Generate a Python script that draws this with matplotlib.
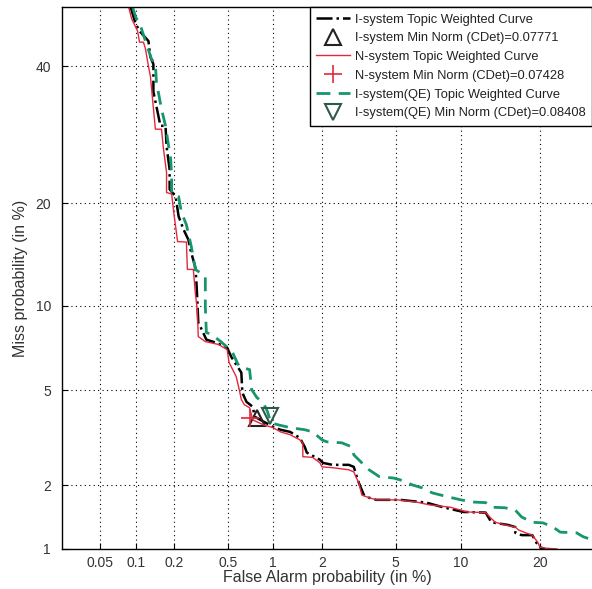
import numpy as np
import matplotlib
matplotlib.use("Agg")
import matplotlib.pyplot as plt
import matplotlib.scale as mscale
import matplotlib.transforms as mtransforms
from matplotlib.ticker import FixedLocator, FixedFormatter, NullLocator
from statistics import NormalDist

# ---------------- data (percent) ----------------
i_fa = [0.0911, 0.1, 0.1095, 0.1268, 0.1315, 0.1389, 0.1389, 0.1521, 0.1578, 0.1729,
        0.176, 0.1859, 0.1859, 0.2068, 0.2178, 0.237, 0.258, 0.267, 0.2905, 0.2955,
        0.3004, 0.3055, 0.3162, 0.350, 0.408, 0.492, 0.525, 0.569, 0.617, 0.627,
        0.668, 0.736, 0.761, 1.0, 1.117, 1.284, 1.474, 1.580, 1.625, 1.945,
        2.025, 2.296, 2.842, 3.026, 3.142, 3.222, 3.432, 3.654, 3.99, 5.27,
        7.03, 8.35, 10.26, 12.64, 13.31, 13.78, 15.42, 16.39, 16.39, 17.27,
        18.83, 19.48, 20.0, 20.8]
i_miss = [50, 47.1, 45.7, 44.2, 41.5, 40.3, 35.8, 32.0, 30.5, 30.5,
          27.5, 24.3, 21.7, 20.8, 18.45, 17.0, 15.9, 14.9, 13.2, 12.1,
          10.5, 8.78, 8.51, 7.67, 7.49, 7.19, 6.67, 6.24, 5.83, 4.89,
          4.51, 4.31, 3.93, 3.58, 3.48, 3.41, 3.22, 2.95, 2.79, 2.60,
          2.52, 2.47, 2.47, 2.42, 2.19, 2.06, 1.81, 1.76, 1.72, 1.72,
          1.67, 1.59, 1.51, 1.50, 1.35, 1.34, 1.31, 1.28, 1.20, 1.17,
          1.17, 1.07, 1.02, 1.0]

n_fa = [0.0877, 0.0928, 0.1037, 0.1076, 0.1157, 0.12, 0.1268, 0.1315, 0.144, 0.1607,
        0.1667, 0.176, 0.176, 0.1928, 0.2, 0.214, 0.2494, 0.2537, 0.2809, 0.2905,
        0.3004, 0.3055, 0.344, 0.429, 0.492, 0.508, 0.569, 0.597, 0.617, 0.647,
        0.702, 0.736, 0.865, 1.0, 1.117, 1.284, 1.474, 1.537, 1.537, 1.765,
        1.945, 2.0, 2.296, 2.842, 3.026, 3.104, 3.222, 3.346, 3.654, 3.99,
        5.107, 6.32, 7.26, 8.99, 10.0, 10.62, 12.64, 13.2, 13.78, 15.03,
        16.39, 16.82, 17.87, 18.83, 19.66, 20.0, 20.8, 22.75]
n_miss = [50, 48.0, 45.9, 44.0, 44.0, 42.9, 40.0, 38.3, 30.0, 30.0,
          27.1, 23.9, 21.3, 21.1, 18.9, 15.7, 15.65, 13.0, 13.0, 11.0,
          9.7, 7.86, 7.55, 7.37, 7.07, 6.35, 5.63, 5.03, 4.60, 4.39,
          4.27, 3.82, 3.65, 3.55, 3.41, 3.32, 3.16, 3.07, 2.68, 2.66,
          2.52, 2.42, 2.40, 2.35, 2.30, 2.19, 2.06, 1.81, 1.76, 1.72,
          1.72, 1.68, 1.63, 1.59, 1.54, 1.51, 1.50, 1.42, 1.35, 1.31,
          1.28, 1.24, 1.20, 1.17, 1.08, 1.02, 1.01, 1.0]

qe_fa = [0.0945, 0.1, 0.1095, 0.12, 0.1339, 0.144, 0.1467, 0.1607, 0.1729, 0.1793,
         0.1894, 0.1928, 0.1928, 0.2178, 0.229, 0.2494, 0.2714, 0.2905, 0.344, 0.344,
         0.350, 0.381, 0.444, 0.533, 0.578, 0.597, 0.702, 0.724, 0.786, 0.865,
         0.922, 0.968, 1.072, 1.284, 1.580, 1.765, 2.0, 2.13, 2.60, 2.95,
         3.026, 3.346, 3.654, 4.14, 4.88, 5.27, 6.06, 6.74, 7.50, 8.71,
         10.0, 11.19, 12.64, 13.31, 15.03, 16.39, 17.27, 18.83, 20.5, 22.1,
         23.3, 26.2, 27.35, 29.1]
qe_miss = [50, 48.3, 46.8, 44.2, 41.2, 40.3, 37.4, 33.1, 30.5, 28.5,
           25.7, 23.4, 21.1, 20.8, 18.9, 17.5, 15.2, 13.0, 12.4, 9.93,
           8.12, 7.99, 7.55, 6.96, 6.35, 6.14, 5.98, 5.03, 4.68, 4.47,
           4.12, 3.72, 3.65, 3.55, 3.48, 3.41, 3.16, 3.10, 3.07, 2.95,
           2.73, 2.52, 2.35, 2.19, 2.16, 2.12, 2.01, 1.95, 1.85, 1.78,
           1.72, 1.68, 1.67, 1.59, 1.58, 1.54, 1.43, 1.35, 1.34, 1.28,
           1.21, 1.20, 1.15, 1.11]

# minimum-cost points (FA %, Miss %)
i_min = (0.786, 3.88)
n_min = (0.702, 3.90)
qe_min = (0.953, 3.97)

labels = ["I-system Topic Weighted Curve",
          "I-system Min Norm (CDet)=0.07771",
          "N-system Topic Weighted Curve",
          "N-system Min Norm (CDet)=0.07428",
          "I-system(QE) Topic Weighted Curve",
          "I-system(QE) Min Norm (CDet)=0.08408"]

x_ticks = [0.05, 0.1, 0.2, 0.5, 1, 2, 5, 10, 20]
x_ticklabels = ["0.05", "0.1", "0.2", "0.5", "1", "2", "5", "10", "20"]
y_ticks = [1, 2, 5, 10, 20, 40]
y_ticklabels = ["1", "2", "5", "10", "20", "40"]

# ---------------- normal-deviate (DET) scale ----------------
_ND = NormalDist()
_ppf = np.vectorize(lambda v: _ND.inv_cdf(min(max(v, 1e-9), 1 - 1e-9)), otypes=[float])
_cdf = np.vectorize(_ND.cdf, otypes=[float])


class ProbitTransform(mtransforms.Transform):
    input_dims = output_dims = 1

    def transform_non_affine(self, a):
        return _ppf(np.asarray(a, float) / 100.0)

    def inverted(self):
        return InvProbitTransform()


class InvProbitTransform(mtransforms.Transform):
    input_dims = output_dims = 1

    def transform_non_affine(self, a):
        return 100.0 * _cdf(np.asarray(a, float))

    def inverted(self):
        return ProbitTransform()


class ProbitScale(mscale.ScaleBase):
    name = "probit"

    def __init__(self, axis, **kwargs):
        super().__init__(axis)

    def get_transform(self):
        return ProbitTransform()

    def set_default_locators_and_formatters(self, axis):
        axis.set_minor_locator(NullLocator())

    def limit_range_for_scale(self, vmin, vmax, minpos):
        return max(vmin, 1e-7), min(vmax, 100 - 1e-7)


mscale.register_scale(ProbitScale)

plt.rcParams["font.family"] = ["Liberation Sans", "DejaVu Sans"]

fig = plt.figure(figsize=(5.92, 5.89), dpi=100)
ax = fig.add_axes([62 / 592, 1 - 549 / 589, 1 - 62 / 592, (549 - 7) / 589])
ax.set_xscale("probit")
ax.set_yscale("probit")

red = "#e3283c"
green = "#16966c"
dkgreen = "#2f5a4a"

l1, = ax.plot(i_fa, i_miss, color="black", ls="-.", lw=1.8)
m1, = ax.plot([i_min[0]], [i_min[1]], ls="none", marker="^", ms=12,
              mfc="none", mec="#222222", mew=1.5)
l2, = ax.plot(n_fa, n_miss, color=red, ls="-", lw=1.0)
m2, = ax.plot([n_min[0]], [n_min[1]], ls="none", marker="+", ms=13,
              mec=red, mew=1.2)
l3, = ax.plot(qe_fa, qe_miss, color=green, ls=(0, (5, 3)), lw=2.0)
m3, = ax.plot([qe_min[0]], [qe_min[1]], ls="none", marker="v", ms=12,
              mfc="none", mec=dkgreen, mew=1.5)

ax.set_xlim(0.0233, 29.04)
ax.set_ylim(1.0, 50.0)

ax.xaxis.set_major_locator(FixedLocator(x_ticks))
ax.xaxis.set_major_formatter(FixedFormatter(x_ticklabels))
ax.yaxis.set_major_locator(FixedLocator(y_ticks))
ax.yaxis.set_major_formatter(FixedFormatter(y_ticklabels))
ax.grid(True, color="black", ls=(0, (1, 3)), lw=0.8)
ax.tick_params(direction="in", length=4, width=0.8, labelsize=10,
               colors="black", labelcolor="#333333")
ax.tick_params(axis="x", pad=5)
ax.tick_params(axis="y", pad=8)
ax.spines["right"].set_visible(False)
for s in ("left", "bottom", "top"):
    ax.spines[s].set_linewidth(1.0)

ax.set_xlabel("False Alarm probability (in %)", fontsize=11.5, color="#333333", labelpad=0)
ax.set_ylabel("Miss probability (in %)", fontsize=11.5, color="#333333", labelpad=5)

leg = ax.legend([l1, m1, l2, m2, l3, m3], labels, loc="upper left",
                bbox_to_anchor=(0.468, 1.0), borderaxespad=0, fontsize=9.3,
                frameon=True, fancybox=False, framealpha=1, edgecolor="black",
                labelspacing=0.52, handlelength=2.6, handletextpad=0.4,
                borderpad=0.5, labelcolor="#222222")
leg.get_frame().set_linewidth(1.0)

fig.savefig("out.png", dpi=100, facecolor="white")
